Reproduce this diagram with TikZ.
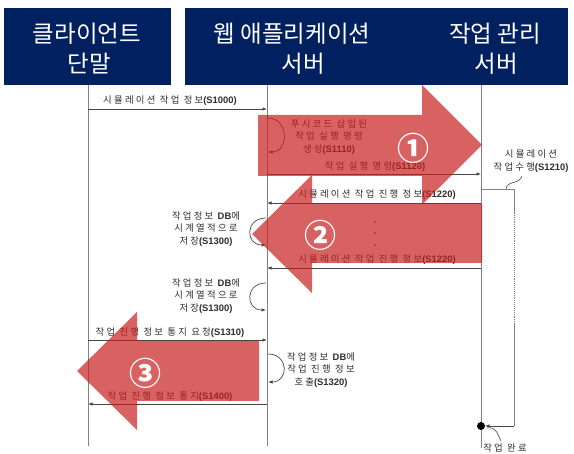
\documentclass[tikz,border=0pt]{standalone}
\usepackage{fontspec}
\usetikzlibrary{arrows.meta}
\newfontfamily\kr[LetterSpace=24]{Noto Sans CJK KR}
\newfontfamily\krh{Noto Sans CJK KR}
\newfontfamily\arb{Liberation Sans}
\newcommand\scode[1]{{\arb\bfseries #1}}
\definecolor{navy}{RGB}{0,32,96}
\definecolor{txtgray}{RGB}{45,45,45}
\definecolor{linegray}{RGB}{70,70,70}
\definecolor{lifegray}{RGB}{130,130,130}
\definecolor{arrowred}{RGB}{200,30,30}
\tikzset{
  hdrbox/.style={fill=navy, draw=none},
  hdr/.style={font=\krh\fontsize{23.5}{31}\selectfont, text=white, inner sep=0pt},
  life/.style={draw=lifegray, line width=1pt},
  msg/.style={draw=linegray, line width=0.7pt, -{Latex[length=4.5pt,width=3.5pt]}},
  loopline/.style={draw=linegray, line width=0.7pt, -{Latex[length=4.5pt,width=3.5pt]}},
  lbl/.style={font=\kr\fontsize{9.4}{12.2}\selectfont, text=txtgray, inner sep=0pt, align=center},
  redarrow/.style={fill=arrowred, fill opacity=0.7, draw=none},
  circnum/.style={font=\krh\bfseries\fontsize{32}{32}\selectfont, text=white, inner sep=0pt},
}
\begin{document}
\begin{tikzpicture}[x=1pt,y=-1pt]
\useasboundingbox (0,0) rectangle (574,454);
% headers
\fill[hdrbox] (4,8) rectangle (171,85);
\fill[hdrbox] (185,8) rectangle (568,85);
\node[hdr] (h1a) at (87,34) {클라이언트};
\node[hdr] (h1b) at (89,64) {단말};
\node[hdr] (h2a) at (292,34) {웹 애플리케이션};
\node[hdr] (h2b) at (303,64) {서버};
\node[hdr] (h3a) at (495,34) {작업 관리};
\node[hdr] (h3b) at (496,64) {서버};
% lifelines
\coordinate (ctop) at (88,85);  \coordinate (cbot) at (88,446);
\coordinate (wtop) at (267,85); \coordinate (wbot) at (267,446);
\coordinate (jtop) at (481,85); \coordinate (jbot) at (481,448);
\draw[life] (ctop) -- (cbot);
\draw[life] (wtop) -- (wbot);
\draw[life] (jtop) -- (jbot);
% S1000
\coordinate (c1) at (88,109); \coordinate (w1) at (267,109);
\draw[msg] (c1) -- (w1);
\node[lbl] (l1000) at (170,101) {시뮬레이션 작업 정보\scode{(S1000)}};
% S1110 self loop
\coordinate (w2a) at (268,118); \coordinate (w2b) at (268,152);
\draw[loopline] (w2a) .. controls (289,118) and (289,152) .. (w2b);
\node[lbl] (l1110) at (329,137) {푸시코드 삽입된\\작업 실행 명령\\생성\scode{(S1110)}};
% S1120
\coordinate (w3) at (267,174); \coordinate (j3) at (481,174);
\draw[msg] (w3) -- (j3);
\node[lbl] (l1120) at (375,167) {작업 실행 명령\scode{(S1120)}};
% S1210 activity
\node[lbl] (l1210) at (531,161) {시뮬레이션\\작업수행\scode{(S1210)}};
\coordinate (a0) at (481,189); \coordinate (a1) at (514,189);
\coordinate (a2) at (514,213); \coordinate (a3) at (514,323);
\coordinate (a4) at (514,426); \coordinate (a5) at (485,426);
\draw[life, line width=0.9pt] (a0) -- (a1) -- (a2);
\draw[lifegray, line width=0.9pt, densely dotted] (a2) -- (a3);
\draw[life, line width=0.9pt] (a3) -- (a4);
\draw[msg] (a4) -- (a5);
\fill[black] (481,426) circle (4pt) coordinate (dot);
\coordinate (sq1) at (506,189); \coordinate (sq2) at (522,176);
\draw[linegray, line width=0.6pt] (sq1) .. controls (507,180) and (519,185) .. (sq2);
% S1220 first
\coordinate (j4) at (481,203); \coordinate (w4) at (267,203);
\draw[msg] (j4) -- (w4);
\node[lbl] (l1220a) at (377,195) {시뮬레이션 작업 진행 정보\scode{(S1220)}};
% dots
\fill[txtgray] (375,222) circle (0.8pt) (375,233) circle (0.8pt) (375,245) circle (0.8pt);
% S1220 second
\coordinate (j5) at (481,268); \coordinate (w5) at (267,268);
\draw[msg] (j5) -- (w5);
\node[lbl] (l1220b) at (377,260) {시뮬레이션 작업 진행 정보\scode{(S1220)}};
% S1300 loops
\coordinate (w6a) at (266,218); \coordinate (w6b) at (266,245);
\draw[loopline] (w6a) .. controls (245,218) and (245,245) .. (w6b);
\node[lbl] (l1300a) at (206,229) {작업정보 \scode{DB}에\\시계열적으로\\저장\scode{(S1300)}};
\coordinate (w7a) at (266,283); \coordinate (w7b) at (266,310);
\draw[loopline] (w7a) .. controls (245,283) and (245,310) .. (w7b);
\node[lbl] (l1300b) at (206,296) {작업정보 \scode{DB}에\\시계열적으로\\저장\scode{(S1300)}};
% S1310
\coordinate (c8) at (88,340); \coordinate (w8) at (267,340);
\draw[msg] (c8) -- (w8);
\node[lbl] (l1310) at (170,333) {작업 진행 정보 통지 요청\scode{(S1310)}};
% S1320 loop
\coordinate (w9a) at (268,354); \coordinate (w9b) at (268,382);
\draw[loopline] (w9a) .. controls (289,354) and (289,382) .. (w9b);
\node[lbl] (l1320) at (321,370) {작업정보 \scode{DB}에\\작업 진행 정보\\호출\scode{(S1320)}};
% S1400
\coordinate (w10) at (267,404); \coordinate (c10) at (88,404);
\draw[msg] (w10) -- (c10);
\node[lbl] (l1400) at (170,397) {작업 진행 정보 통지\scode{(S1400)}};
% job complete
\node[lbl] (ldone) at (505,448) {작업 완료};
\coordinate (dq1) at (487,428); \coordinate (dq2) at (501,441);
\draw[linegray, line width=0.6pt] (dq1) .. controls (497,426) and (498,436) .. (dq2);
% red block arrows
\path[redarrow] (258,115) -- (422,115) -- (422,85) -- (482,145) -- (422,205) -- (422,176) -- (258,176) -- cycle;
\path[redarrow] (482,204) -- (312,204) -- (312,175) -- (252,234) -- (312,293) -- (312,263) -- (482,263) -- cycle;
\path[redarrow] (259,341) -- (137,341) -- (137,312) -- (77,371) -- (137,430) -- (137,401) -- (259,401) -- cycle;
\node[circnum] (n1) at (413,148) {①};
\node[circnum] (n2) at (320,235) {②};
\node[circnum] (n3) at (145,373) {③};
\end{tikzpicture}
\end{document}
